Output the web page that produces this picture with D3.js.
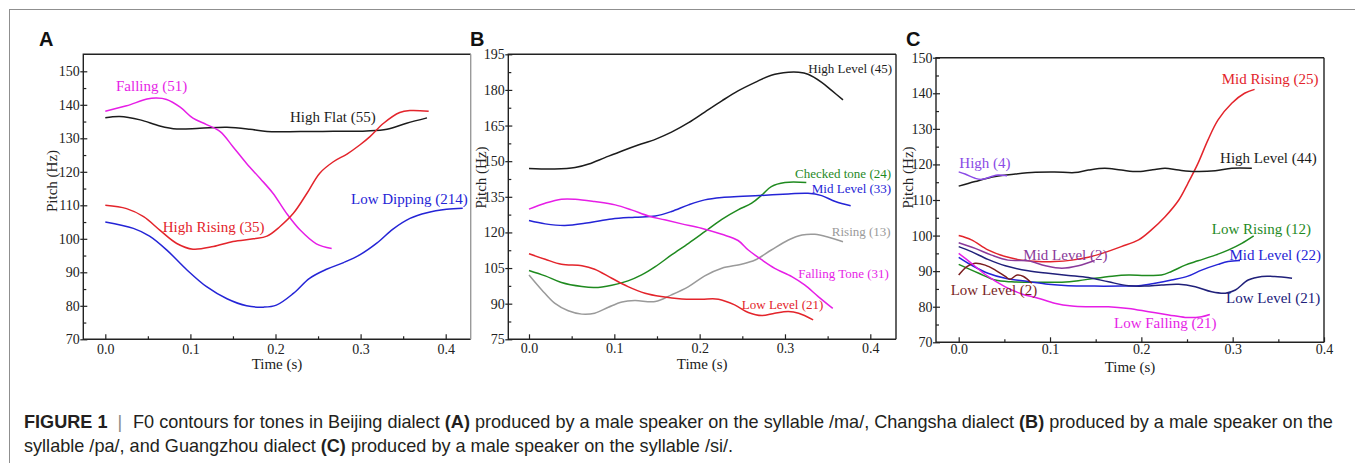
<!DOCTYPE html>
<html>
<head>
<meta charset="utf-8">
<script src="https://cdn.jsdelivr.net/npm/d3@7"></script>
<style>
  body { margin: 0; background: #fff; }
  svg text { font-family: "Liberation Serif", "Times New Roman", serif; }
</style>
</head>
<body>
<svg id="fig" width="1355" height="463"></svg>
<script>
// ---- values: [time (s), pitch (Hz)] ----
var timeTicks = [0, 0.1, 0.2, 0.3, 0.4];
var timeMinor = [0.05, 0.15, 0.25, 0.35];

// A: Beijing
var bjHighFlat = [[0,136.1],[0.017,136.5],[0.041,135.5],[0.064,133.7],[0.084,132.8],[0.111,133],[0.143,133.3],[0.17,132.7],[0.19,132],[0.229,132],[0.268,132.1],[0.307,132.2],[0.331,132.7],[0.354,134.5],[0.378,136.1]];
var bjFalling = [[0,138.1],[0.025,139.7],[0.049,141.7],[0.06,142],[0.072,141.6],[0.088,139.3],[0.103,136],[0.119,134.1],[0.135,132],[0.15,127.5],[0.166,122.5],[0.182,118],[0.197,113.6],[0.213,107.6],[0.229,102.6],[0.248,98.5],[0.266,97.1]];
var bjHighRising = [[0,110],[0.025,109],[0.045,106.6],[0.064,102.6],[0.084,98.6],[0.103,96.9],[0.127,97.7],[0.15,99.2],[0.174,100],[0.19,100.8],[0.205,103.6],[0.221,107.6],[0.237,113.6],[0.252,119.6],[0.268,123],[0.284,125.3],[0.299,128],[0.311,130.5],[0.327,134.5],[0.346,137.7],[0.358,138.3],[0.38,138.1]];
var bjLowDipping = [[0,105],[0.033,103.1],[0.052,100.8],[0.072,96.7],[0.096,90.7],[0.119,85.7],[0.143,82.1],[0.166,80],[0.186,79.6],[0.201,80.2],[0.221,83.7],[0.24,88.2],[0.26,90.9],[0.28,92.9],[0.299,95.2],[0.319,98.7],[0.338,102.9],[0.358,106.1],[0.378,107.8],[0.401,108.8],[0.42,109.1]];

// B: Changsha
var csHighLevel = [[0,146.9],[0.03,146.7],[0.054,147.3],[0.07,148.8],[0.089,151.5],[0.109,154.3],[0.128,156.8],[0.148,159.2],[0.167,162.2],[0.187,166.2],[0.206,170.7],[0.226,175.4],[0.245,179.6],[0.265,183.2],[0.284,186.2],[0.304,187.4],[0.316,187.4],[0.327,186.6],[0.343,183.2],[0.355,179.7],[0.368,175.8]];
var csChecked = [[0,104],[0.019,101.7],[0.038,98.9],[0.062,97.2],[0.077,96.8],[0.097,97.8],[0.116,99.6],[0.132,102.1],[0.148,105.6],[0.167,110.5],[0.187,115.4],[0.206,120.3],[0.226,125.5],[0.245,129.5],[0.261,132.3],[0.273,135.8],[0.284,139.3],[0.3,141],[0.325,141]];
var csMidLevel = [[0,125],[0.019,123.6],[0.042,122.9],[0.07,124.1],[0.097,125.7],[0.124,126.4],[0.148,126.9],[0.167,128.8],[0.187,131.6],[0.206,133.7],[0.226,134.7],[0.245,135.1],[0.265,135.4],[0.304,136.2],[0.327,136.5],[0.343,135.5],[0.359,133],[0.377,131.2]];
var csRising = [[0,102.1],[0.015,95.8],[0.03,90.2],[0.046,87],[0.062,85.6],[0.077,86],[0.093,88.5],[0.109,90.7],[0.124,91.3],[0.148,90.9],[0.167,93.7],[0.187,97.2],[0.206,101.7],[0.226,104.9],[0.249,106.6],[0.265,108.4],[0.284,112.6],[0.304,116.8],[0.32,118.9],[0.335,119.2],[0.351,118],[0.368,116.1]];
var csFallingTone = [[0,129.8],[0.019,132.3],[0.038,134],[0.054,134],[0.077,133],[0.101,131.6],[0.12,129.5],[0.14,126.9],[0.159,125.3],[0.179,123.6],[0.202,121.8],[0.226,119.2],[0.245,116.6],[0.257,112.6],[0.273,108.4],[0.288,104.9],[0.308,101.4],[0.323,97.9],[0.339,93],[0.356,88]];
var csLowLevel = [[0,111],[0.019,108.7],[0.038,106.6],[0.062,106],[0.077,104.5],[0.097,100.7],[0.116,97.2],[0.136,94.4],[0.155,93],[0.179,92],[0.202,91.9],[0.222,91.9],[0.241,89.5],[0.257,86.3],[0.273,85],[0.288,86],[0.304,86.7],[0.316,86],[0.333,83.2]];

// C: Guangzhou
var gzMidRising = [[0,100],[0.014,98.8],[0.032,96],[0.051,94.1],[0.069,93.1],[0.087,92.7],[0.105,92.7],[0.124,93.1],[0.142,93.9],[0.157,95],[0.178,96.9],[0.197,98.8],[0.211,101.6],[0.226,105.3],[0.241,110],[0.251,114.7],[0.262,120.3],[0.273,126.9],[0.284,132.5],[0.299,137.2],[0.313,140],[0.324,141.1]];
var gzHighLevel = [[0,113.9],[0.018,115.2],[0.04,116.6],[0.062,117.3],[0.084,117.8],[0.105,117.9],[0.127,117.7],[0.142,118.4],[0.16,118.9],[0.178,118.4],[0.197,118],[0.215,118.6],[0.226,118.9],[0.241,118.4],[0.259,118],[0.281,118.2],[0.299,118.9],[0.321,118.9]];
var gzHigh = [[0,117.9],[0.007,117.3],[0.018,116.1],[0.025,115.8],[0.036,116.6],[0.043,117],[0.053,116.8]];
var gzLowRising = [[0,91.9],[0.022,89.4],[0.04,87.5],[0.058,87],[0.076,86.9],[0.095,86.9],[0.113,86.9],[0.131,87.3],[0.149,88],[0.168,88.6],[0.186,88.9],[0.204,88.8],[0.222,88.9],[0.233,89.9],[0.248,91.7],[0.262,92.9],[0.281,94.5],[0.295,95.9],[0.31,97.8],[0.323,99.9]];
var gzMidLevel22 = [[0,93.9],[0.014,91.7],[0.032,89.4],[0.051,88],[0.076,87.1],[0.098,86.3],[0.12,85.9],[0.149,85.8],[0.178,85.8],[0.197,85.9],[0.215,86.6],[0.233,87.5],[0.251,88.6],[0.266,90.3],[0.284,91.9],[0.295,92.7],[0.308,93]];
var gzLowLevel21 = [[0,96.9],[0.014,95.5],[0.032,93.3],[0.051,91.5],[0.076,90.1],[0.098,89.4],[0.12,88.8],[0.142,88.2],[0.164,87],[0.186,85.9],[0.204,85.8],[0.222,86.1],[0.241,86.3],[0.259,85.6],[0.277,84.2],[0.292,83.8],[0.303,84.7],[0.317,87.5],[0.332,88.5],[0.346,88.5],[0.365,88]];
var gzMidLevel2 = [[0,98],[0.018,96.4],[0.036,94.5],[0.054,93.1],[0.076,92.9],[0.095,91.5],[0.113,90.8],[0.131,91.5],[0.149,93]];
var gzLowLevel2 = [[0,88.9],[0.009,91.3],[0.018,92.2],[0.029,91.7],[0.04,90.3],[0.051,88.5],[0.056,87.7],[0.064,88.9],[0.071,88.5],[0.08,86.6]];
var gzLowFalling = [[0,95],[0.014,92.2],[0.032,88.5],[0.051,85.6],[0.069,83.6],[0.087,82.4],[0.105,81],[0.124,80.2],[0.142,80],[0.164,80],[0.186,79.5],[0.208,78.6],[0.23,77.7],[0.248,77],[0.266,77.2],[0.275,77.8]];

// ---- colours ----
var BLACK = "#1c1c1c", MAGENTA = "#e61ee6", RED = "#e3242b", BLUE = "#2424d6",
    GREEN = "#1f8a1f", GRAY = "#9a9a9a", VIOLET = "#8a4ae6", PURPLE = "#8a3a9a",
    BROWN = "#7a1f1f", NAVY = "#20207a";

// series + label anchor (data units, left/baseline)
var panels = [
  {
    letter: "A", letterX: 39,
    box: [83.3, 54.3, 470.7, 339.3], rightEdge: "#9a9a9a",
    xRange: [105.3, 445.7], yDomain: [70, 150], yRange: [339.3, 71.3], yStep: 10,
    xPad: 5, yTitleX: 57, yTitleY: 181, labelSize: 15,
    series: [
      { name: "High Flat (55)", data: bjHighFlat, color: BLACK, at: [0.217, 135] },
      { name: "Falling (51)", data: bjFalling, color: MAGENTA, at: [0.0126, 144.2] },
      { name: "High Rising (35)", data: bjHighRising, color: RED, at: [0.0675, 102.1] },
      { name: "Low Dipping (214)", data: bjLowDipping, color: BLUE, at: [0.2887, 110.4] }
    ]
  },
  {
    letter: "B", letterX: 470,
    box: [508.3, 54.3, 896, 339.3],
    xRange: [529, 870.3], yDomain: [75, 195], yRange: [339.3, 54.3], yStep: 15,
    xPad: 4, yTitleX: 486, yTitleY: 177.5, labelSize: 13,
    series: [
      { name: "High Level (45)", data: csHighLevel, color: BLACK, at: [0.3274, 187.25] },
      { name: "Checked tone (24)", data: csChecked, color: GREEN, at: [0.3118, 142.8] },
      { name: "Mid Level (33)", data: csMidLevel, color: BLUE, at: [0.3314, 136.5] },
      { name: "Rising (13)", data: csRising, color: GRAY, at: [0.3549, 118.5] },
      { name: "Falling Tone (31)", data: csFallingTone, color: MAGENTA, at: [0.3157, 100.7] },
      { name: "Low Level (21)", data: csLowLevel, color: RED, at: [0.2494, 87.9] }
    ]
  },
  {
    letter: "C", letterX: 906,
    box: [936, 57.7, 1324, 342.3],
    xRange: [958.7, 1324], yDomain: [70, 150], yRange: [342.3, 57.7], yStep: 10,
    xPad: 2, yTitleX: 913, yTitleY: 177.5, labelSize: 15,
    series: [
      { name: "Mid Rising (25)", data: gzMidRising, color: RED, at: [0.288, 142.6] },
      { name: "High Level (44)", data: gzHighLevel, color: BLACK, at: [0.2862, 120.5] },
      { name: "High (4)", data: gzHigh, color: VIOLET, at: [0.0007, 118.9] },
      { name: "Low Rising (12)", data: gzLowRising, color: GREEN, at: [0.2771, 100.4] },
      { name: "Mid Level (22)", data: gzMidLevel22, color: BLUE, at: [0.2964, 93.1] },
      { name: "Low Level (21)", data: gzLowLevel21, color: NAVY, at: [0.2928, 81.1] },
      { name: "Mid Level (2)", data: gzMidLevel2, color: PURPLE, at: [0.0708, 93.1] },
      { name: "Low Level (2)", data: gzLowLevel2, color: BROWN, at: [-0.0088, 83.3] },
      { name: "Low Falling (21)", data: gzLowFalling, color: MAGENTA, at: [0.1701, 73.9] }
    ]
  }
];

var svg = d3.select("#fig");

// outer frame (cut off on the right and bottom)
svg.append("rect")
  .attr("x", 9.5).attr("y", 9.5)
  .attr("width", 1400).attr("height", 500)
  .attr("fill", "none")
  .attr("stroke", "#8f8f8f")
  .attr("stroke-width", 1);

function styleTicks(s) {
  s.select(".domain").remove();
  s.selectAll("line").attr("stroke", "#222").attr("stroke-width", 1.2);
}

function drawPanel(p) {
  var x = d3.scaleLinear().domain([0, 0.4]).range(p.xRange);
  var y = d3.scaleLinear().domain(p.yDomain).range(p.yRange);
  var g = svg.append("g");

  var yMajor = d3.range(p.yDomain[0], p.yDomain[1] + 0.001, p.yStep);
  var yMinor = yMajor.map(function(v) { return v + p.yStep / 2; })
    .filter(function(v) { return y(v) > p.box[1] + 1; });

  // y axis: labels + short outward part of major ticks
  var yAxis = g.append("g")
    .attr("transform", "translate(" + p.box[0] + ",0)")
    .call(d3.axisLeft(y).tickValues(yMajor).tickSize(3).tickPadding(0.5))
    .call(styleTicks);
  yAxis.selectAll("text")
    .style("font-family", '"Liberation Serif", "Times New Roman", serif')
    .style("font-size", "14px")
    .attr("fill", "#222");

  g.append("g")
    .attr("transform", "translate(" + p.box[0] + ",0)")
    .call(d3.axisLeft(y).tickValues(yMajor).tickSize(-4).tickFormat(""))
    .call(styleTicks);

  g.append("g")
    .attr("transform", "translate(" + p.box[0] + ",0)")
    .call(d3.axisLeft(y).tickValues(yMinor).tickSize(-3).tickFormat(""))
    .call(styleTicks);

  // x axis
  var xAxis = g.append("g")
    .attr("transform", "translate(0," + p.box[3] + ")")
    .call(d3.axisBottom(x).tickValues(timeTicks).tickSize(-5).tickPadding(p.xPad).tickFormat(d3.format(".1f")))
    .call(styleTicks);
  xAxis.selectAll("text")
    .style("font-family", '"Liberation Serif", "Times New Roman", serif')
    .style("font-size", "14px")
    .attr("fill", "#222");

  g.append("g")
    .attr("transform", "translate(0," + p.box[3] + ")")
    .call(d3.axisBottom(x).tickValues(timeMinor).tickSize(-3).tickFormat(""))
    .call(styleTicks);

  // frame of the plot
  var b = p.box;
  g.append("path")
    .attr("d", "M" + b[2] + "," + b[1] + "H" + b[0] + "V" + b[3] + "H" + b[2])
    .attr("fill", "none").attr("stroke", "#222").attr("stroke-width", 1.4);
  g.append("line")
    .attr("x1", b[2]).attr("x2", b[2]).attr("y1", b[1]).attr("y2", b[3])
    .attr("stroke", p.rightEdge || "#222").attr("stroke-width", 1.4);

  // axis titles
  g.append("text")
    .attr("x", (b[0] + b[2]) / 2).attr("y", b[3] + 30)
    .attr("text-anchor", "middle")
    .style("font-size", "15px").attr("fill", "#222")
    .text("Time (s)");
  g.append("text")
    .attr("transform", "translate(" + p.yTitleX + "," + p.yTitleY + ") rotate(-90)")
    .attr("text-anchor", "middle")
    .style("font-size", "15px").attr("fill", "#222")
    .text("Pitch (Hz)");

  // contours
  var line = d3.line()
    .x(function(d) { return x(d[0]); })
    .y(function(d) { return y(d[1]); })
    .curve(d3.curveCatmullRom.alpha(0.5));

  g.selectAll(".contour")
    .data(p.series)
    .enter().append("path")
      .attr("class", "contour")
      .attr("d", function(d) { return line(d.data); })
      .attr("fill", "none")
      .attr("stroke", function(d) { return d.color; })
      .attr("stroke-width", 1.5);

  g.selectAll(".tone")
    .data(p.series)
    .enter().append("text")
      .attr("class", "tone")
      .attr("x", function(d) { return x(d.at[0]); })
      .attr("y", function(d) { return y(d.at[1]); })
      .style("font-size", p.labelSize + "px")
      .attr("fill", function(d) { return d.color; })
      .text(function(d) { return d.name; });

  // panel letter
  svg.append("text")
    .attr("x", p.letterX).attr("y", 46)
    .style("font-family", '"Liberation Sans", Arial, sans-serif')
    .style("font-weight", "bold")
    .style("font-size", "20px")
    .attr("fill", "#111")
    .text(p.letter);
}

panels.forEach(drawPanel);

// caption
var cap = svg.append("g")
  .style("font-size", "18.1px")
  .attr("fill", "#231f20");

var line1 = cap.append("text").attr("x", 24).attr("y", 428).style("font-family", '"Liberation Sans", Arial, sans-serif');
line1.append("tspan").style("font-weight", "bold").text("FIGURE 1");
line1.append("tspan").attr("x", 117.5).attr("fill", "#8a8a8a").text("|");
line1.append("tspan").attr("x", 133).text("F0 contours for tones in Beijing dialect ");
line1.append("tspan").style("font-weight", "bold").text("(A)");
line1.append("tspan").text(" produced by a male speaker on the syllable /ma/, Changsha dialect ");
line1.append("tspan").style("font-weight", "bold").text("(B)");
line1.append("tspan").text(" produced by a male speaker on the");

var line2 = cap.append("text").attr("x", 24).attr("y", 452).style("font-family", '"Liberation Sans", Arial, sans-serif');
line2.append("tspan").text("syllable /pa/, and Guangzhou dialect ");
line2.append("tspan").style("font-weight", "bold").text("(C)");
line2.append("tspan").text(" produced by a male speaker on the syllable /si/.");
</script>
</body>
</html>
